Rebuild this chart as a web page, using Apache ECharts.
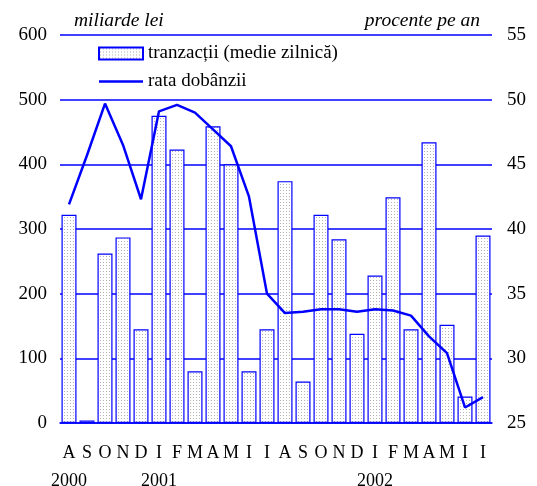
<!DOCTYPE html>
<html>
<head>
<meta charset="utf-8">
<script src="https://cdn.jsdelivr.net/npm/echarts@6/dist/echarts.min.js"></script>
<style>
  html, body { margin: 0; padding: 0; background: #fff; }
  #chart { width: 537px; height: 486px; }
</style>
</head>
<body>
<div id="chart"></div>
<script>
// months Aug 2000 - Jul 2002
const months = ['A', 'S', 'O', 'N', 'D', 'I', 'F', 'M', 'A', 'M', 'I', 'I',
                'A', 'S', 'O', 'N', 'D', 'I', 'F', 'M', 'A', 'M', 'I', 'I'];
const years = ['2000', '', '', '', '', '2001', '', '', '', '', '', '',
               '', '', '', '', '', '2002', '', '', '', '', '', ''];
// miliarde lei
const tranzactii = [322, 4, 262, 287, 145, 475, 423, 80, 459, 400, 80, 145,
                    374, 64, 322, 284, 138, 228, 349, 145, 434, 152, 41, 290];
// procente pe an
const rata = [41.9, 45.7, 49.7, 46.5, 42.3, 49.1, 49.6, 49.0, 47.7, 46.4, 42.5, 35.0,
              33.5, 33.6, 33.8, 33.8, 33.6, 33.8, 33.7, 33.3, 31.7, 30.4, 26.2, 27.0];

const serif = 'Liberation Serif';
const blue = '#0000ff';

// dotted fill for the bars
const dots = document.createElement('canvas');
dots.width = 3;
dots.height = 3;
const ctx = dots.getContext('2d');
ctx.fillStyle = '#ffffff';
ctx.fillRect(0, 0, 3, 3);
ctx.fillStyle = '#b4b4b4';
ctx.fillRect(1, 1, 1, 1);

const chart = echarts.init(document.getElementById('chart'));
const option = {
  animation: false,
  backgroundColor: '#fff',
  textStyle: { fontFamily: serif, color: '#000' },
  grid: { left: 60, right: 45, top: 35, bottom: 63, outerBoundsMode: 'none', containLabel: false },
  legend: {
    orient: 'vertical',
    left: 98,
    top: 44,
    padding: 0,
    itemWidth: 44,
    itemHeight: 12,
    itemGap: 9,
    textStyle: { fontFamily: serif, fontSize: 19, color: '#000' },
    data: [
      { name: 'tranzacții (medie zilnică)', icon: 'rect' },
      { name: 'rata dobânzii', icon: 'path://M0,0L44,0L44,2.5L0,2.5Z', itemStyle: { color: blue } }
    ]
  },
  xAxis: {
    type: 'category',
    data: months,
    axisLine: { lineStyle: { color: blue, width: 1.5 } },
    axisTick: { show: false },
    axisLabel: {
      interval: 0,
      margin: 16,
      fontFamily: serif,
      fontSize: 18,
      color: '#000',
      lineHeight: 28,
      formatter: function (value, index) {
        return years[index] ? value + '\n' + years[index] : value;
      }
    }
  },
  yAxis: [
    {
      type: 'value',
      min: 0,
      max: 600,
      interval: 100,
      name: 'miliarde lei',
      nameLocation: 'end',
      nameGap: 4,
      nameTextStyle: {
        fontFamily: serif, fontSize: 19.5, fontStyle: 'italic', color: '#000',
        align: 'left', padding: [0, 0, 0, 14]
      },
      axisLine: { show: false },
      axisTick: { show: false },
      axisLabel: { fontFamily: serif, fontSize: 19, color: '#000', margin: 13 },
      splitLine: { show: true, lineStyle: { color: blue, width: 1.5, opacity: 1 } }
    },
    {
      type: 'value',
      min: 25,
      max: 55,
      interval: 5,
      name: 'procente pe an',
      nameLocation: 'end',
      nameGap: 4,
      nameTextStyle: {
        fontFamily: serif, fontSize: 19.5, fontStyle: 'italic', color: '#000',
        align: 'right', padding: [0, 12, 0, 0]
      },
      axisLine: { show: false },
      axisTick: { show: false },
      axisLabel: { fontFamily: serif, fontSize: 19, color: '#000', margin: 15 },
      splitLine: { show: false }
    }
  ],
  series: [
    {
      name: 'tranzacții (medie zilnică)',
      type: 'bar',
      data: tranzactii,
      yAxisIndex: 0,
      barWidth: 15,
      itemStyle: {
        color: { image: dots, repeat: 'repeat' },
        borderColor: blue,
        borderWidth: 1.2
      }
    },
    {
      name: 'rata dobânzii',
      type: 'line',
      data: rata,
      yAxisIndex: 1,
      symbol: 'none',
      z: 5,
      lineStyle: { color: blue, width: 2.5 },
      itemStyle: { color: blue }
    }
  ]
};
chart.setOption(option);
</script>
</body>
</html>
